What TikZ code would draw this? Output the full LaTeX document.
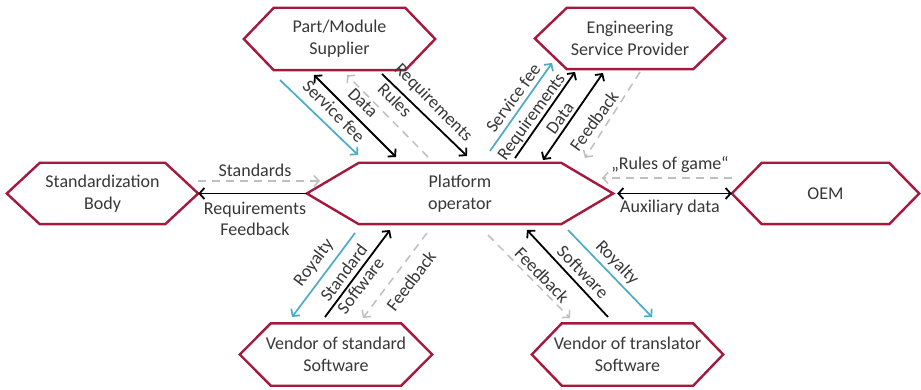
\documentclass[tikz,border=0pt]{standalone}
\usepackage{fontspec}
\setmainfont{Carlito}
\usetikzlibrary{arrows.meta}
\definecolor{hexred}{HTML}{A6193C}
\definecolor{txt}{HTML}{383838}
\definecolor{lblue}{HTML}{4BACC6}
\definecolor{lgray}{HTML}{BFBFBF}
\newcommand\hexnode[7]{%
  \node[hexlbl, minimum width=#4pt, minimum height=#5pt] (#1) at (#2,#3) {#7};
  \draw[hexb] (#1.west) -- ([xshift=#6pt]#1.north west) -- ([xshift=-#6pt]#1.north east)
    -- (#1.east) -- ([xshift=-#6pt]#1.south east) -- ([xshift=#6pt]#1.south west) -- cycle;}
\begin{document}
\begin{tikzpicture}[x=1pt,y=-1pt,
  hexlbl/.style={text=txt, align=center, inner sep=0pt, font=\fontsize{18}{22}\selectfont},
  hexb/.style={draw=hexred, line width=2.4pt, line join=miter},
  lbl/.style={text=txt, align=center, inner sep=0pt, font=\fontsize{18}{21}\selectfont},
  tip/.style={Straight Barb[length=5pt,width=10pt]},
  blk/.style={draw=black, line width=1.8pt, -{Straight Barb[length=5pt,width=11pt]}},
  blkd/.style={draw=black, line width=1.8pt, {Straight Barb[length=5pt,width=11pt]}-{Straight Barb[length=5pt,width=11pt]}},
  blu/.style={draw=lblue, line width=1.7pt, -{Straight Barb[length=5pt,width=11pt]}},
  gry/.style={draw=lgray, line width=1.5pt, dash pattern=on 8pt off 6pt, -{Straight Barb[length=5pt,width=11pt]}}
]
\fill[white] (0,0) rectangle (921,390);
\useasboundingbox (0,0) rectangle (921,390);

\hexnode{plat}{460}{193.5}{306}{61}{52}{Platform\\operator}
\hexnode{pms}{339.5}{39}{191}{62}{30}{Part/Module\\Supplier}
\hexnode{esp}{630}{38.5}{190}{61}{32}{Engineering\\Service Provider}
\hexnode{std}{102.5}{193.5}{191}{61}{33}{Standardization\\Body}
\hexnode{oem}{825.5}{193.5}{187}{61}{30}{OEM}
\hexnode{vss}{336}{354.5}{192}{62}{31}{Vendor of standard\\Software}
\hexnode{vts}{627.5}{354.5}{191}{62}{30}{Vendor of translator\\Software}

% upper left
\coordinate (ul1a) at (280,80);  \coordinate (ul1b) at (358,155);
\coordinate (ul2a) at (314,75);  \coordinate (ul2b) at (396,157);
\coordinate (ul3a) at (428,157); \coordinate (ul3b) at (347,75);
\coordinate (ul4a) at (382,74);  \coordinate (ul4b) at (467,156);
\draw[blu] (ul1a) -- (ul1b);
\draw[blkd] (ul2a) -- (ul2b);
\draw[gry] (ul3a) -- (ul3b);
\draw[blk] (ul4a) -- (ul4b);
\node[lbl, rotate=-45] (t1) at (334,111) {Service fee};
\node[lbl, rotate=-45] (t2) at (363,103) {Data};
\node[lbl, rotate=-45] (t3) at (395,100) {Rules};
\node[lbl, rotate=-45] (t4) at (433,103) {Requirements};

% upper right
\coordinate (ur1a) at (490,151); \coordinate (ur1b) at (552,63);
\coordinate (ur2a) at (515,158); \coordinate (ur2b) at (575,72);
\coordinate (ur3a) at (543,160); \coordinate (ur3b) at (603,73);
\coordinate (ur4a) at (640,72);  \coordinate (ur4b) at (585,158);
\draw[blu] (ur1a) -- (ur1b);
\draw[blk] (ur2a) -- (ur2b);
\draw[blkd] (ur3a) -- (ur3b);
\draw[gry] (ur4a) -- (ur4b);
\node[lbl, rotate=54] (t5) at (513,98) {Service fee};
\node[lbl, rotate=54] (t6) at (532,117) {Requirements};
\node[lbl, rotate=54] (t7) at (560,118) {Data};
\node[lbl, rotate=54] (t8) at (594,121) {Feedback};

% left
\coordinate (l1a) at (198,181); \coordinate (l1b) at (320,181);
\draw[gry] (l1a) -- (l1b);
\draw[blk] (plat.west) -- (std.east);
\node[lbl] (t9) at (255,170) {Standards};
\node[lbl] (t10) at (255,218.5) {Requirements\\Feedback};

% right
\coordinate (r1a) at (732,178); \coordinate (r1b) at (602,178);
\draw[gry] (r1a) -- (r1b);
\draw[blkd] ([xshift=4pt]plat.east) -- (oem.west);
\node[lbl] (t11) at (670,165) {„Rules of game“};
\node[lbl] (t12) at (670,208) {Auxiliary data};

% bottom left
\coordinate (bl1a) at (355,233); \coordinate (bl1b) at (292,317);
\coordinate (bl2a) at (325,317); \coordinate (bl2b) at (390,230);
\coordinate (bl3a) at (427,233); \coordinate (bl3b) at (363,318);
\draw[blu] (bl1a) -- (bl1b);
\draw[blk] (bl2a) -- (bl2b);
\draw[gry] (bl3a) -- (bl3b);
\node[lbl, rotate=53] (t13) at (314,263) {Royalty};
\node[lbl, rotate=53] (t14) at (352,279) {Standard\\Software};
\node[lbl, rotate=53] (t15) at (411,281) {Feedback};

% bottom right
\coordinate (br1a) at (488,235); \coordinate (br1b) at (570,318);
\coordinate (br2a) at (608,317); \coordinate (br2b) at (527,230);
\coordinate (br3a) at (568,230); \coordinate (br3b) at (652,317);
\draw[gry] (br1a) -- (br1b);
\draw[blk] (br2a) -- (br2b);
\draw[blu] (br3a) -- (br3b);
\node[lbl, rotate=-46] (t16) at (542,275) {Feedback};
\node[lbl, rotate=-46] (t17) at (583,272) {Software};
\node[lbl, rotate=-46] (t18) at (617,263) {Royalty};
\end{tikzpicture}
\end{document}
